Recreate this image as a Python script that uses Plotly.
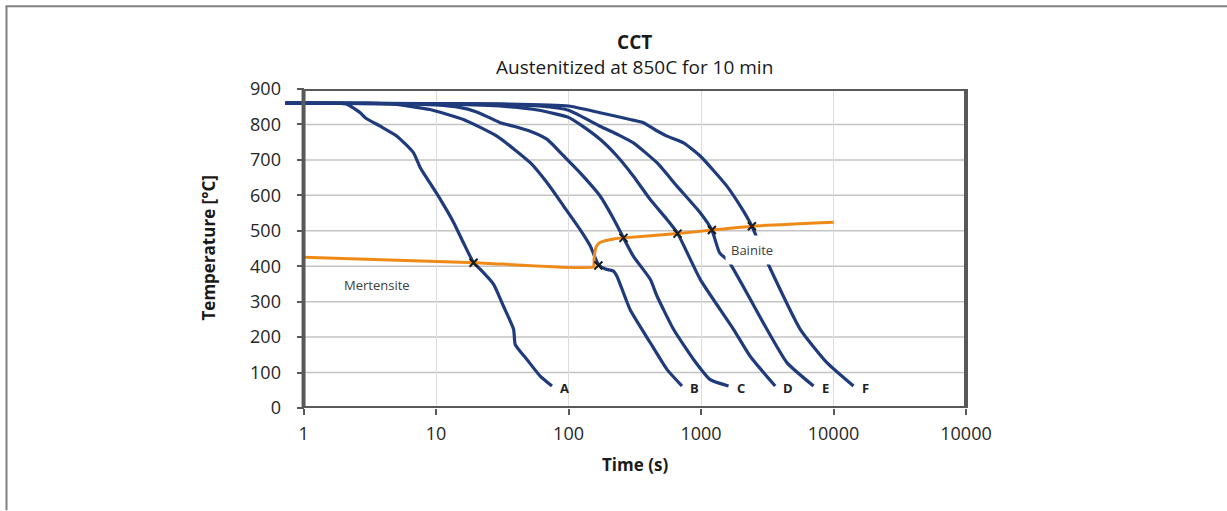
import numpy as np
import plotly.graph_objects as go

# ---------------- data ----------------
A_t = [0.73, 1.5, 2.1, 2.68, 2.92, 3.79, 5.07, 6.76, 7.6, 8.54, 10.8, 13.6, 16.1, 19.2, 21.6, 27.2, 32.3, 38.5, 39.6, 48.5, 61.1, 75]
A_T = [860, 860, 858, 833, 819, 795, 767, 720, 678, 648, 588, 523, 466, 410, 391, 349, 287, 222, 179, 137, 90, 62]

B_t = [0.73, 3, 4.8, 9, 16.1, 28.8, 51.4, 68.7, 91.7, 122, 146, 168, 190, 219, 232, 292, 414, 553, 718]
B_T = [860, 860, 857, 842, 814, 767, 692, 636, 570, 504, 457, 405, 392, 386, 372, 277, 184, 109, 62]

C_t = [0.73, 5, 10, 15, 20, 25, 30.5, 38.5, 51.4, 69, 92, 122, 173, 220, 260, 309, 414, 465, 620, 878, 1174, 1614]
C_T = [860, 859, 855, 848, 836, 820, 805, 795, 781, 758, 711, 664, 598, 532, 480, 428, 363, 316, 222, 137, 80, 62]

D_t = [0.73, 10, 30, 60, 100, 122, 173, 232, 309, 414, 553, 665, 986, 1759, 2347, 3630]
D_T = [860, 858, 852, 840, 820, 800, 758, 711, 654, 588, 532, 493, 363, 222, 146, 62]

E_t = [0.73, 20, 60, 100, 173, 240, 309, 465, 658, 986, 1208, 1380, 1614, 3141, 4448, 7065]
E_T = [860, 858, 852, 840, 795, 770, 748, 692, 626, 551, 502, 438, 414, 222, 128, 62]

F_t = [0.73, 30, 100, 173, 292, 368, 450, 553, 738, 986, 1567, 1977, 2421, 3141, 5610, 8913, 14160]
F_T = [860, 858, 852, 833, 814, 805, 785, 767, 748, 711, 626, 570, 513, 414, 222, 128, 62]

curve_names = ["A", "B", "C", "D", "E", "F"]

# transformation start line (orange)
trans_t = [1, 20, 154, 156, 158, 162, 170, 182, 200, 220, 260, 665, 1208, 2421, 10000]
trans_T = [425, 410, 398, 420, 440, 455, 465, 470, 474, 477, 480, 492, 502, 513, 524]

# transformation points (x markers)
mark_t = [19.2, 168, 260, 665, 1208, 2421]
mark_T = [410, 402, 480, 492, 502, 513]

x_tickvals = [1, 10, 100, 1000, 10000, 100000]
x_ticktext = ["1", "10", "100", "1000", "10000", "10000"]
y_tickvals = [0, 100, 200, 300, 400, 500, 600, 700, 800, 900]

# ---------------- style ----------------
NAVY = "#1f3b7b"
ORANGE = "#ef8a17"
FRAME = "#595959"
FONT = "Open Sans"

XMIN_LOG = -0.14
XMAX_LOG = 5.0
axis_pos = (0 - XMIN_LOG) / (XMAX_LOG - XMIN_LOG)

fig = go.Figure()

curves = [(A_t, A_T), (B_t, B_T), (C_t, C_T), (D_t, D_T), (E_t, E_T), (F_t, F_T)]
for name, (t, T) in zip(curve_names, curves):
    fig.add_trace(go.Scatter(x=t, y=T, mode="lines", name=name,
                             line=dict(color=NAVY, width=3.2, shape="spline", smoothing=0.5),
                             hoverinfo="skip", showlegend=False))

fig.add_trace(go.Scatter(x=trans_t, y=trans_T, mode="lines",
                         line=dict(color=ORANGE, width=3, shape="spline", smoothing=0.4),
                         showlegend=False, hoverinfo="skip"))

fig.add_trace(go.Scatter(x=mark_t, y=mark_T, mode="markers",
                         marker=dict(symbol="x-thin", size=8, line=dict(color="#1a1a1a", width=2)),
                         showlegend=False, hoverinfo="skip"))

shapes = []
# horizontal gridlines
for yv in y_tickvals[1:-1]:
    shapes.append(dict(type="line", xref="paper", yref="y", x0=axis_pos, x1=1, y0=yv, y1=yv,
                       line=dict(color="#c4c4c4", width=1.5), layer="below"))
# frame
shapes.append(dict(type="rect", xref="paper", yref="y", x0=axis_pos, x1=1, y0=0, y1=900,
                   line=dict(color=FRAME, width=4), layer="above"))
# outer border (top and left)
W, H = 1227, 511
L, R, T_, B_ = 285, 261, 88.5, 102.5
pw, ph = W - L - R, H - T_ - B_
def px(x):
    return (x - L) / pw
def py(y):
    return (H - B_ - y) / ph
shapes.append(dict(type="line", xref="paper", yref="paper", x0=px(5.5), x1=px(1227), y0=py(5.5), y1=py(5.5),
                   line=dict(color="#808080", width=2)))
shapes.append(dict(type="line", xref="paper", yref="paper", x0=px(6.5), x1=px(6.5), y0=py(5.5), y1=py(511),
                   line=dict(color="#808080", width=2)))

annotations = []
for name, (t, T) in zip(curve_names, curves):
    annotations.append(dict(x=np.log10(t[-1]), y=T[-1], xref="x", yref="y", text="<b>%s</b>" % name,
                            showarrow=False, xanchor="left", yanchor="middle", xshift=6, yshift=-2,
                            font=dict(family=FONT, size=13, color="#222222")))
annotations.append(dict(x=np.log10(3.6), y=347, xref="x", yref="y", text="Mertensite", showarrow=False,
                        xanchor="center", yanchor="middle",
                        font=dict(family=FONT, size=13, color="#404040")))
annotations.append(dict(x=np.log10(2435), y=446, xref="x", yref="y", text="Bainite", showarrow=False,
                        xanchor="center", yanchor="middle", bgcolor="white", borderpad=5,
                        font=dict(family=FONT, size=13, color="#404040")))
cx = (axis_pos + 1) / 2
annotations.append(dict(x=cx, y=py(54), xref="paper", yref="paper",
                        text="<b>CCT</b><br>Austenitized at 850C for 10 min", showarrow=False,
                        xanchor="center", yanchor="middle", align="center",
                        font=dict(family=FONT, size=19, color="#1a1a1a")))
annotations.append(dict(x=cx, y=py(465), xref="paper", yref="paper", text="<b>Time (s)</b>", showarrow=False,
                        xanchor="center", yanchor="middle",
                        font=dict(family=FONT, size=17, color="#1a1a1a")))
annotations.append(dict(x=px(208), y=0.5, xref="paper", yref="paper", text="<b>Temperature [°C]</b>",
                        showarrow=False, textangle=-90, xanchor="center", yanchor="middle",
                        font=dict(family=FONT, size=17, color="#1a1a1a")))

fig.update_layout(
    width=W, height=H,
    margin=dict(l=L, r=R, t=T_, b=B_),
    paper_bgcolor="white", plot_bgcolor="white",
    font=dict(family=FONT, size=18, color="#262626"),
    shapes=shapes, annotations=annotations,
    xaxis=dict(type="log", range=[XMIN_LOG, XMAX_LOG], tickvals=x_tickvals, ticktext=x_ticktext,
               showgrid=True, gridcolor="#dcdcdc", gridwidth=1, zeroline=False, showline=False,
               ticks="outside", ticklen=6, tickwidth=2, tickcolor=FRAME, ticklabelstandoff=3),
    yaxis=dict(range=[0, 900], tickvals=y_tickvals, anchor="free", position=axis_pos,
               showgrid=False, zeroline=False, showline=False,
               ticks="outside", ticklen=7, tickwidth=2, tickcolor=FRAME, ticklabelstandoff=12),
)

fig.write_html("out.html")
